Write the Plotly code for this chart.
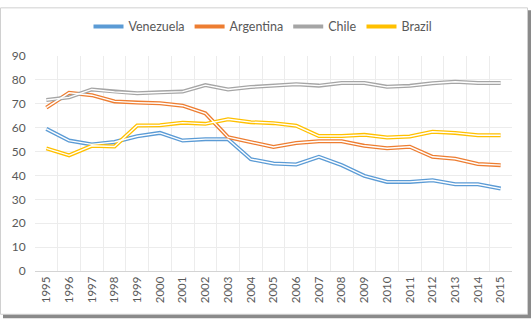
import plotly.graph_objects as go

years = [str(y) for y in range(1995, 2016)]
venezuela = [59.5, 54.6, 53.0, 54.0, 56.4, 57.8, 54.6, 55.2, 55.2, 46.8, 45.0, 44.6, 47.8, 44.3, 39.8, 37.3, 37.3, 38.0, 36.3, 36.3, 34.5]
argentina = [68.4, 74.6, 73.6, 71.0, 70.5, 70.2, 69.2, 66.0, 56.0, 54.0, 51.9, 53.6, 54.3, 54.3, 52.4, 51.4, 52.0, 47.8, 47.0, 44.8, 44.3]
chile = [71.6, 72.7, 76.0, 75.0, 74.4, 74.8, 75.1, 77.8, 76.0, 77.0, 77.7, 78.2, 77.6, 78.7, 78.7, 77.1, 77.5, 78.6, 79.2, 78.7, 78.7]
brazil = [51.3, 48.4, 52.4, 52.1, 60.9, 61.0, 62.1, 61.6, 63.5, 62.3, 61.9, 60.8, 56.5, 56.5, 57.0, 55.9, 56.3, 58.3, 57.8, 56.8, 56.8]

series = [("Venezuela", venezuela, "#5B9BD5"),
          ("Argentina", argentina, "#ED7D31"),
          ("Chile", chile, "#A5A5A5"),
          ("Brazil", brazil, "#FFC000")]

fig = go.Figure()
for name, vals, col in series:
    fig.add_trace(go.Scatter(x=years, y=vals, mode="lines", name=name,
                             line=dict(color=col, width=4), legendgroup=name))
for name, vals, col in series:
    fig.add_trace(go.Scatter(x=years, y=vals, mode="lines", showlegend=False,
                             line=dict(color="white", width=1.4), legendgroup=name,
                             hoverinfo="skip"))

L, R, T, B = 35, 20, 50, 50
W, H = 532, 321
pw, ph = W - L - R, H - T - B

def px(x):
    return (x - L) / pw

def py(y):
    return (H - B - y) / ph

shapes = [
    dict(type="rect", xref="paper", yref="paper", x0=px(3), x1=px(531), y0=py(3), y1=py(319.5),
         fillcolor="#8a8a8a", line=dict(width=0), layer="below"),
    dict(type="rect", xref="paper", yref="paper", x0=px(0.5), x1=px(527.5), y0=py(0.5), y1=py(315.5),
         fillcolor="white", line=dict(color="#d0d0d0", width=1), layer="below"),
]

font = "Lato, 'Liberation Sans', sans-serif"
fig.update_layout(
    width=W, height=H,
    margin=dict(l=L, r=R, t=T, b=B, pad=0),
    paper_bgcolor="white", plot_bgcolor="rgba(0,0,0,0)",
    font=dict(family=font, size=12, color="#595959"),
    shapes=shapes,
    showlegend=True,
    legend=dict(orientation="h", x=px(263), xanchor="center", y=py(20), yanchor="middle",
                font=dict(size=12.5, color="#595959"), bgcolor="rgba(0,0,0,0)",
                itemwidth=30, tracegroupgap=0),
    xaxis=dict(type="category", tickson="boundaries", showgrid=True, gridcolor="#ececec",
               gridwidth=1, showline=True, linecolor="#d4d4d4", linewidth=1,
               tickangle=-90, ticks="outside", ticklen=5, tickcolor="rgba(0,0,0,0)",
               tickfont=dict(size=11.5, color="#595959"), range=[-0.5, 20.5], fixedrange=True),
    yaxis=dict(range=[0, 90], dtick=10, showgrid=True, gridcolor="#ececec", gridwidth=1,
               zeroline=False, showline=False, ticks="outside", ticklen=6,
               tickcolor="rgba(0,0,0,0)", tickfont=dict(size=12, color="#595959"), fixedrange=True),
)

fig.write_html("out.html")
